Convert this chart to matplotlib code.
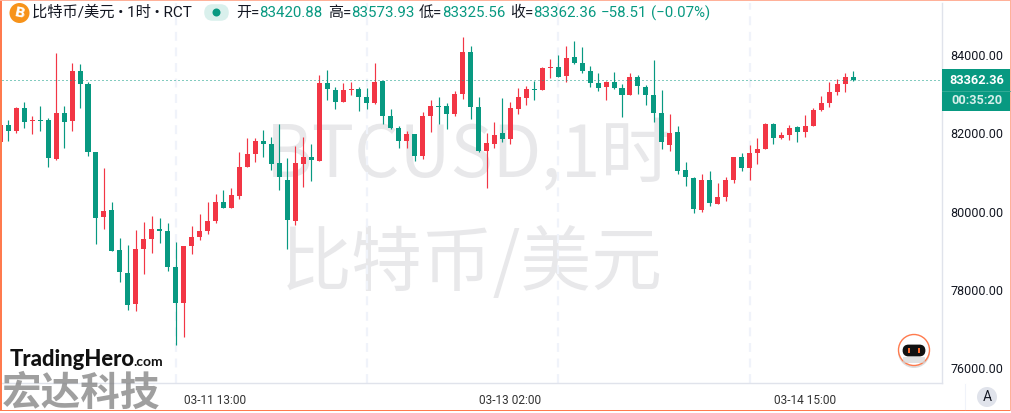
import matplotlib
matplotlib.use('Agg')
import matplotlib.pyplot as plt
from matplotlib.patches import Circle, FancyBboxPatch, Rectangle

plt.rcParams['font.family'] = ['Roboto', 'Noto Sans CJK SC', 'DejaVu Sans']

# hourly candles, first one is cut by the left edge
highs = [82207, 82335, 82659, 82794, 82437, 82692, 82386, 84036, 82692, 83781, 83763, 83304,
         81519, 81111, 80252, 79326, 79147, 79530, 79734, 79887, 79836, 79708, 79224, 79122,
         79632, 79938, 80244, 80448, 80550, 80601, 81519, 81876, 81876, 82080, 81902, 82233,
         81366, 81672, 81902, 81723, 83482, 83610, 83184, 83278, 83304, 83176, 83151, 83788,
         83330, 82616, 82182, 82055, 81978, 82539, 82845, 82922, 82768, 83075, 84451, 84222,
         82922, 82003, 82284, 82896, 82794, 83151, 83202, 83330, 83686, 83891, 83992, 84222,
         84350, 84196, 83712, 83533, 83330, 83559, 83253, 83533, 83482, 83227, 83865, 83100,
         82488, 82182, 81264, 80881, 80966, 81035, 80729, 80881, 81391, 81494, 81697, 81876,
         82258, 82258, 82029, 82207, 82182, 82462, 82641, 82947, 83304, 83380, 83533, 83573.93]
lows = [81782, 81807, 82011, 82139, 81978, 82062, 81144, 81315, 81629, 82062, 82649, 81425,
        79173, 79555, 79002, 78212, 77498, 77472, 78416, 78951, 79206, 78492, 76605, 76809,
        78926, 79283, 79436, 79716, 80091, 80091, 80328, 81144, 81271, 81399, 81068, 80558,
        79053, 79665, 80634, 80787, 81297, 82845, 82623, 82802, 82973, 82572, 82623, 82751,
        82241, 82105, 81629, 81629, 81297, 81348, 82037, 82241, 82113, 82445, 82878, 82368,
        81527, 80609, 81629, 81782, 81731, 82496, 82725, 82853, 83108, 83414, 83439, 83312,
        83771, 83541, 83184, 83075, 82853, 83133, 82419, 82980, 83006, 82725, 82292, 81603,
        81552, 80966, 80660, 79963, 79997, 80150, 80201, 80277, 80736, 81035, 80805, 81221,
        81603, 81731, 81850, 81833, 81782, 81909, 82190, 82572, 82667, 82980, 83049, 83325.56]
opens = [81782, 82207, 82062, 82641, 82317, 82335, 82335, 81340, 82514, 82317, 83585, 83253,
         81519, 79869, 80040, 79020, 78433, 77651, 79053, 79308, 79555, 79505, 78586, 77676,
         79130, 79359, 79512, 79760, 80244, 80091, 80405, 81144, 81476, 81800, 81723, 81239,
         80805, 79767, 81221, 81391, 81297, 83278, 83100, 82802, 83100, 83126, 82922, 82776,
         83330, 82437, 82131, 81807, 81978, 81425, 82445, 82692, 82692, 82496, 83006, 84069,
         82667, 81552, 81731, 82003, 81858, 82623, 82904, 83126, 83108, 83669, 83686, 83465,
         83941, 83788, 83584, 83278, 83184, 83304, 83151, 82980, 83431, 83176, 82973, 82513,
         81705, 82029, 81060, 80856, 80047, 80805, 80201, 80379, 80813, 81391, 81119, 81501,
         81603, 82233, 81884, 81960, 82156, 82037, 82190, 82598, 82776, 83057, 83261, 83420.88]
closes = [82207, 82062, 82641, 82292, 82335, 82317, 81374, 82514, 82292, 83585, 83261, 81527,
          79844, 80015, 79002, 78467, 77625, 79045, 79300, 79555, 79512, 78594, 77676, 79122,
          79351, 79505, 79760, 80244, 80091, 80422, 81136, 81468, 81800, 81731, 81221, 80889,
          79793, 81239, 81391, 81323, 83278, 83133, 82802, 83100, 83126, 82929, 82776, 83304,
          82445, 82139, 81807, 81978, 81425, 82437, 82692, 82674, 82496, 82998, 84069, 82674,
          81552, 81748, 81953, 81858, 82641, 82922, 83126, 83100, 83661, 83686, 83439, 83916,
          83796, 83592, 83286, 83159, 83304, 83159, 82980, 83431, 83210, 82980, 82521, 81782,
          82003, 81035, 80889, 80065, 80805, 80226, 80372, 80805, 81391, 81119, 81494, 81595,
          82233, 81884, 81953, 82131, 82037, 82182, 82590, 82768, 83049, 83253, 83431, 83362.36]
first_idx = -1

price_ticks = [76000, 78000, 80000, 82000, 84000]
time_idx = [26, 63, 100]
time_labels = ['03-11 13:00', '03-13 02:00', '03-14 15:00']
grid_idx = [21, 45, 69, 93]

red = '#f23645'
green = '#089981'
W, H = 1011, 413

fig = plt.figure(figsize=(W / 100, H / 100), dpi=100, facecolor='white')


def px_axes(z):
    a = fig.add_axes([0, 0, 1, 1], zorder=z)
    a.set_xlim(0, W)
    a.set_ylim(H, 0)
    a.axis('off')
    return a


# watermark sits under the candles
bg = px_axes(0)
bg.text(469, 156, 'BTCUSD,1时', fontsize=51, color='#e8e8ea', ha='center', va='center',
        family=['Noto Sans CJK SC', 'DejaVu Sans'])
bg.text(472, 264, '比特币/美元', fontsize=51, color='#e8e8ea', ha='center', va='center',
        family=['Noto Sans CJK SC', 'DejaVu Sans'])

# main chart, limits line up with the pane edges at x=2..942 and y=3..383
ax = fig.add_axes([2 / W, 1 - 383 / H, 940 / W, 380 / H], zorder=1, facecolor='none')
ax.set_xlim(-0.79, 117.15)
ax.set_ylim(75628, 85318)
for s in ['top', 'left']:
    ax.spines[s].set_visible(False)
ax.spines['right'].set_color('#e0e3eb')
ax.spines['bottom'].set_color('#e0e3eb')
for s in ['right', 'bottom']:
    ax.spines[s].set_linewidth(1)

for g in grid_idx:
    ax.axvline(g, color='#f0f3fa', lw=1.6, ls=(0, (4, 3)), zorder=1)

xs = list(range(first_idx, first_idx + len(closes)))
colors = [red if c >= o else green for o, c in zip(opens, closes)]
ax.vlines(xs, lows, highs, colors=colors, lw=0.85, zorder=2)
ax.bar(xs, [max(abs(c - o), 25) for o, c in zip(opens, closes)],
       bottom=[min(o, c) for o, c in zip(opens, closes)],
       width=0.63, color=colors, linewidth=0, zorder=3)
ax.axhline(closes[-1], color=green, lw=0.72, ls=(0, (1, 3)), zorder=4)

ax.yaxis.tick_right()
ax.set_yticks(price_ticks)
ax.set_yticklabels([f'{p:.2f}' for p in price_ticks])
ax.set_xticks(time_idx)
ax.set_xticklabels(time_labels)
ax.tick_params(axis='y', length=0, pad=6, labelsize=9, labelcolor='#131722')
ax.tick_params(axis='x', length=0, pad=8, labelsize=8.6, labelcolor='#333333')

# header, tag, logos and frame
top = px_axes(2)
top.add_patch(Circle((19.5, 13), 10, color='#f7931a', lw=0))
top.text(19.5, 13, 'B', color='white', fontsize=10, weight='bold', ha='center', va='center',
         rotation=-12, family='DejaVu Sans')
top.text(32, 13, '比特币/美元 • 1时 • RCT', fontsize=11, color='#131722', va='center')
top.add_patch(FancyBboxPatch((207, 7), 19, 11, boxstyle='round,pad=0,rounding_size=5.5',
                             fc='#d9f0ec', ec='#d9f0ec', lw=4))
top.add_patch(Circle((216.5, 12.5), 4, color=green, lw=0))

for x, lab, val in [(236, '开=', '83420.88'), (328, '高=', '83573.93'),
                    (419, '低=', '83325.56'), (510, '收=', '83362.36')]:
    top.text(x, 13, lab, fontsize=10.8, color='#131722', va='center')
    top.text(x + 23, 13, val, fontsize=10.8, color=green, va='center')
top.text(601, 13, '−58.51', fontsize=10.8, color=green, va='center')
top.text(651, 13, '(−0.07%)', fontsize=10.8, color=green, va='center')

top.add_patch(Rectangle((942, 69), 68, 42, color=green, lw=0))
top.plot([942, 1010], [90.5, 90.5], color='#3aae99', lw=0.6)
top.text(977, 80, '83362.36', color='white', fontsize=9.2, weight='bold', ha='center', va='center')
top.text(977, 100.5, '00:35:20', color='#d6efea', fontsize=9.2, weight='bold', ha='center', va='center')

top.text(10, 360, 'TradingHero', fontsize=15.8, weight='black', color='#111111', va='center',
         family='Lato')
top.text(133, 362, '.com', fontsize=10, weight='bold', color='#111111', va='center', family='Lato')
top.text(2, 393.5, '宏达科技', fontsize=28.5, weight='bold', color='#7f7f7f', alpha=0.75, va='center',
         family='Noto Sans CJK SC')

# robot badge
top.add_patch(Circle((914, 352), 16, color='#bdbdbd', alpha=0.5, lw=0))
top.add_patch(Circle((914, 350), 15.5, fc='white', ec='#ff7a4d', lw=1))
top.add_patch(Rectangle((903, 357), 22, 6, color='#d5d5d5', lw=0, alpha=0.7, zorder=1))
top.add_patch(FancyBboxPatch((904, 346), 20, 9, boxstyle='round,pad=0,rounding_size=4.5',
                             fc='#111111', ec='#111111', lw=2))
for ex in (909, 919):
    top.add_patch(Rectangle((ex - 1, 348), 2.2, 5, color='#ff6a2a', lw=0))

top.add_patch(Circle((987, 397), 10, color='#e0e3eb', lw=0))
top.text(987, 397, 'A', fontsize=10, color='#131722', ha='center', va='center')
top.plot([964.7, 964.7], [384, 409], color='#f0f3fa', lw=0.8)

# orange screenshot frame
top.add_patch(Rectangle((0, 0), 2, 411, color='#ff7a4d', lw=0))
top.add_patch(Rectangle((0, 409.5), 1011, 1.8, color='#ff7a4d', lw=0))
top.add_patch(Rectangle((0, 0), 1011, 1.2, color='#ffb199', lw=0))
top.add_patch(Rectangle((1009.8, 0), 1.2, 411, color='#ffb199', lw=0))

fig.savefig('out.png', dpi=100)
plt.close()
